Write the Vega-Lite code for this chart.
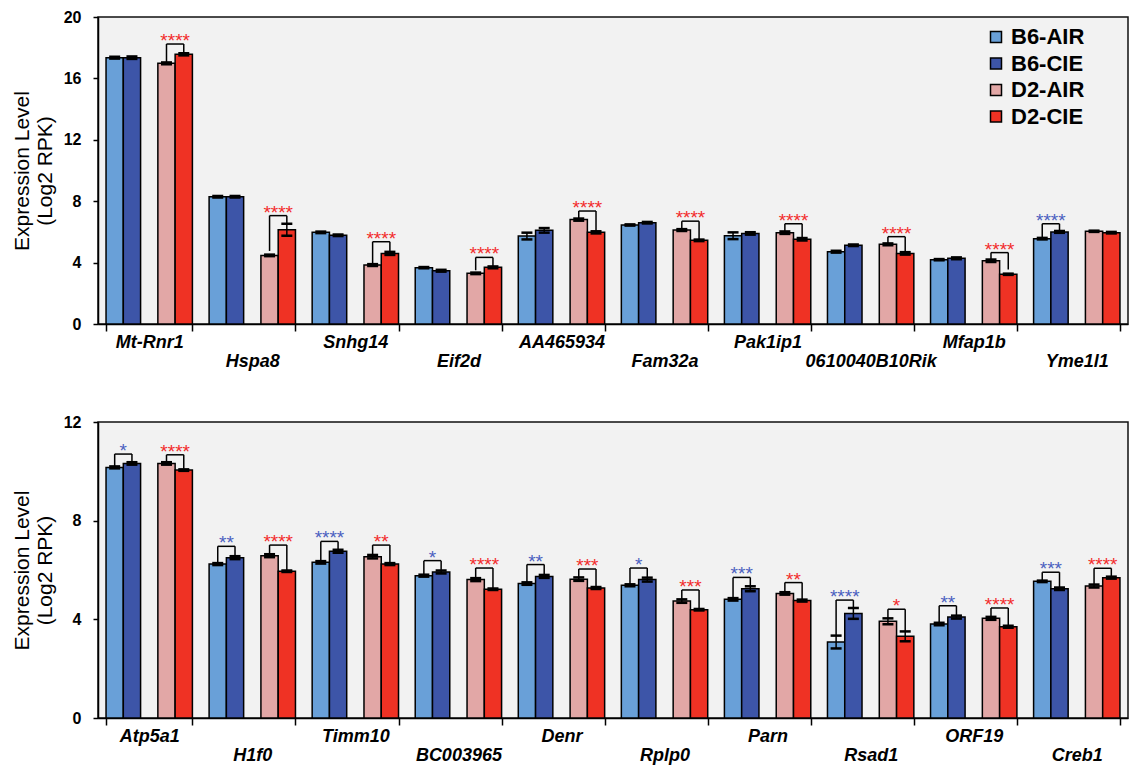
{
  "$schema": "https://vega.github.io/schema/vega-lite/v6.json",
  "background": "white",
  "padding": {"left": 10, "top": 8, "right": 2, "bottom": 0},
  "spacing": 42,
  "config": {
    "view": {"fill": "#f2f2f2", "stroke": "#111111", "strokeWidth": 1.5},
    "font": "Liberation Sans",
    "axisX": {
      "title": null, "labelExpr": "round(datum.index*9) % 2 == 1 ? ['', datum.label] : datum.label",
      "labelFont": "Liberation Sans", "labelFontSize": 18, "labelFontWeight": "bold", "labelFontStyle": "italic",
      "labelAngle": 0, "labelPadding": 2, "labelLineHeight": 19, "tickBand": "extent", "tickSize": 7,
      "tickColor": "black", "tickWidth": 1.5, "domainColor": "black", "domainWidth": 1.5, "labelColor": "black",
      "labelOverlap": false, "labelBound": false, "labelFlush": false, "grid": false
    },
    "axisY": {
      "titleFont": "Liberation Sans", "titleFontSize": 21, "titleFontWeight": "normal", "titleColor": "black",
      "titleLineHeight": 23, "titlePadding": 8,
      "labelFont": "Liberation Sans", "labelFontSize": 16, "labelFontWeight": "bold", "labelColor": "black", "labelPadding": 12,
      "tickSize": 5, "tickColor": "black", "tickWidth": 1.5, "domainColor": "black", "domainWidth": 1.5, "grid": false
    }
  },
  "datasets": {
    "topBars": [
      {"g": "Mt-Rnr1", "s": "B6-AIR", "v": 17.35, "lo": 17.29, "hi": 17.41}, {"g": "Mt-Rnr1", "s": "B6-CIE", "v": 17.35, "lo": 17.27, "hi": 17.43}, {"g": "Mt-Rnr1", "s": "D2-AIR", "v": 16.98, "lo": 16.92, "hi": 17.04}, {"g": "Mt-Rnr1", "s": "D2-CIE", "v": 17.57, "lo": 17.5, "hi": 17.64},
      {"g": "Hspa8", "s": "B6-AIR", "v": 8.29, "lo": 8.24, "hi": 8.34}, {"g": "Hspa8", "s": "B6-CIE", "v": 8.29, "lo": 8.24, "hi": 8.34}, {"g": "Hspa8", "s": "D2-AIR", "v": 4.47, "lo": 4.42, "hi": 4.52}, {"g": "Hspa8", "s": "D2-CIE", "v": 6.14, "lo": 5.75, "hi": 6.53},
      {"g": "Snhg14", "s": "B6-AIR", "v": 5.97, "lo": 5.92, "hi": 6.02}, {"g": "Snhg14", "s": "B6-CIE", "v": 5.78, "lo": 5.73, "hi": 5.83}, {"g": "Snhg14", "s": "D2-AIR", "v": 3.84, "lo": 3.78, "hi": 3.9}, {"g": "Snhg14", "s": "D2-CIE", "v": 4.6, "lo": 4.5, "hi": 4.7},
      {"g": "Eif2d", "s": "B6-AIR", "v": 3.67, "lo": 3.63, "hi": 3.71}, {"g": "Eif2d", "s": "B6-CIE", "v": 3.47, "lo": 3.41, "hi": 3.53}, {"g": "Eif2d", "s": "D2-AIR", "v": 3.3, "lo": 3.25, "hi": 3.35}, {"g": "Eif2d", "s": "D2-CIE", "v": 3.69, "lo": 3.63, "hi": 3.75},
      {"g": "AA465934", "s": "B6-AIR", "v": 5.73, "lo": 5.51, "hi": 5.95}, {"g": "AA465934", "s": "B6-CIE", "v": 6.1, "lo": 5.95, "hi": 6.25}, {"g": "AA465934", "s": "D2-AIR", "v": 6.8, "lo": 6.73, "hi": 6.87}, {"g": "AA465934", "s": "D2-CIE", "v": 5.97, "lo": 5.9, "hi": 6.04},
      {"g": "Fam32a", "s": "B6-AIR", "v": 6.45, "lo": 6.41, "hi": 6.49}, {"g": "Fam32a", "s": "B6-CIE", "v": 6.6, "lo": 6.55, "hi": 6.65}, {"g": "Fam32a", "s": "D2-AIR", "v": 6.12, "lo": 6.06, "hi": 6.18}, {"g": "Fam32a", "s": "D2-CIE", "v": 5.45, "lo": 5.4, "hi": 5.5},
      {"g": "Pak1ip1", "s": "B6-AIR", "v": 5.75, "lo": 5.53, "hi": 5.97}, {"g": "Pak1ip1", "s": "B6-CIE", "v": 5.9, "lo": 5.82, "hi": 5.98}, {"g": "Pak1ip1", "s": "D2-AIR", "v": 5.95, "lo": 5.87, "hi": 6.03}, {"g": "Pak1ip1", "s": "D2-CIE", "v": 5.52, "lo": 5.44, "hi": 5.6},
      {"g": "0610040B10Rik", "s": "B6-AIR", "v": 4.71, "lo": 4.65, "hi": 4.77}, {"g": "0610040B10Rik", "s": "B6-CIE", "v": 5.13, "lo": 5.08, "hi": 5.18}, {"g": "0610040B10Rik", "s": "D2-AIR", "v": 5.19, "lo": 5.13, "hi": 5.25}, {"g": "0610040B10Rik", "s": "D2-CIE", "v": 4.6, "lo": 4.52, "hi": 4.68},
      {"g": "Mfap1b", "s": "B6-AIR", "v": 4.19, "lo": 4.15, "hi": 4.23}, {"g": "Mfap1b", "s": "B6-CIE", "v": 4.28, "lo": 4.22, "hi": 4.34}, {"g": "Mfap1b", "s": "D2-AIR", "v": 4.12, "lo": 4.04, "hi": 4.2}, {"g": "Mfap1b", "s": "D2-CIE", "v": 3.24, "lo": 3.2, "hi": 3.28},
      {"g": "Yme1l1", "s": "B6-AIR", "v": 5.56, "lo": 5.51, "hi": 5.61}, {"g": "Yme1l1", "s": "B6-CIE", "v": 6.0, "lo": 5.94, "hi": 6.06}, {"g": "Yme1l1", "s": "D2-AIR", "v": 6.04, "lo": 6.0, "hi": 6.08}, {"g": "Yme1l1", "s": "D2-CIE", "v": 5.95, "lo": 5.9, "hi": 6.0}
    ],
    "topBr": [
      {"g": "Mt-Rnr1", "p": "D2", "a": "D2-AIR", "b": "D2-CIE", "ya": 17.05, "yb": 17.65, "t": 18.24, "st": "****"},
      {"g": "Hspa8", "p": "D2", "a": "D2-AIR", "b": "D2-CIE", "ya": 4.76, "yb": 6.55, "t": 7.06, "st": "****"},
      {"g": "Snhg14", "p": "D2", "a": "D2-AIR", "b": "D2-CIE", "ya": 3.9, "yb": 4.7, "t": 5.36, "st": "****"},
      {"g": "Eif2d", "p": "D2", "a": "D2-AIR", "b": "D2-CIE", "ya": 3.5, "yb": 3.75, "t": 4.34, "st": "****"},
      {"g": "AA465934", "p": "D2", "a": "D2-AIR", "b": "D2-CIE", "ya": 6.88, "yb": 6.05, "t": 7.36, "st": "****"},
      {"g": "Fam32a", "p": "D2", "a": "D2-AIR", "b": "D2-CIE", "ya": 6.2, "yb": 5.5, "t": 6.7, "st": "****"},
      {"g": "Pak1ip1", "p": "D2", "a": "D2-AIR", "b": "D2-CIE", "ya": 6.03, "yb": 5.6, "t": 6.53, "st": "****"},
      {"g": "0610040B10Rik", "p": "D2", "a": "D2-AIR", "b": "D2-CIE", "ya": 5.25, "yb": 4.68, "t": 5.69, "st": "****"},
      {"g": "Mfap1b", "p": "D2", "a": "D2-AIR", "b": "D2-CIE", "ya": 4.2, "yb": 3.55, "t": 4.65, "st": "****"},
      {"g": "Yme1l1", "p": "B6", "a": "B6-AIR", "b": "B6-CIE", "ya": 5.6, "yb": 6.06, "t": 6.53, "st": "****"}
    ],
    "botBars": [
      {"g": "Atp5a1", "s": "B6-AIR", "v": 10.16, "lo": 10.12, "hi": 10.2}, {"g": "Atp5a1", "s": "B6-CIE", "v": 10.32, "lo": 10.27, "hi": 10.37}, {"g": "Atp5a1", "s": "D2-AIR", "v": 10.32, "lo": 10.27, "hi": 10.37}, {"g": "Atp5a1", "s": "D2-CIE", "v": 10.05, "lo": 10.02, "hi": 10.08},
      {"g": "H1f0", "s": "B6-AIR", "v": 6.24, "lo": 6.2, "hi": 6.28}, {"g": "H1f0", "s": "B6-CIE", "v": 6.5, "lo": 6.44, "hi": 6.56}, {"g": "H1f0", "s": "D2-AIR", "v": 6.58, "lo": 6.52, "hi": 6.64}, {"g": "H1f0", "s": "D2-CIE", "v": 5.95, "lo": 5.92, "hi": 5.98},
      {"g": "Timm10", "s": "B6-AIR", "v": 6.31, "lo": 6.26, "hi": 6.36}, {"g": "Timm10", "s": "B6-CIE", "v": 6.76, "lo": 6.7, "hi": 6.82}, {"g": "Timm10", "s": "D2-AIR", "v": 6.54, "lo": 6.47, "hi": 6.61}, {"g": "Timm10", "s": "D2-CIE", "v": 6.24, "lo": 6.2, "hi": 6.28},
      {"g": "BC003965", "s": "B6-AIR", "v": 5.77, "lo": 5.73, "hi": 5.81}, {"g": "BC003965", "s": "B6-CIE", "v": 5.92, "lo": 5.86, "hi": 5.98}, {"g": "BC003965", "s": "D2-AIR", "v": 5.61, "lo": 5.55, "hi": 5.67}, {"g": "BC003965", "s": "D2-CIE", "v": 5.22, "lo": 5.19, "hi": 5.25},
      {"g": "Denr", "s": "B6-AIR", "v": 5.45, "lo": 5.4, "hi": 5.5}, {"g": "Denr", "s": "B6-CIE", "v": 5.74, "lo": 5.68, "hi": 5.8}, {"g": "Denr", "s": "D2-AIR", "v": 5.63, "lo": 5.56, "hi": 5.7}, {"g": "Denr", "s": "D2-CIE", "v": 5.27, "lo": 5.23, "hi": 5.31},
      {"g": "Rplp0", "s": "B6-AIR", "v": 5.38, "lo": 5.34, "hi": 5.42}, {"g": "Rplp0", "s": "B6-CIE", "v": 5.61, "lo": 5.53, "hi": 5.69}, {"g": "Rplp0", "s": "D2-AIR", "v": 4.74, "lo": 4.67, "hi": 4.81}, {"g": "Rplp0", "s": "D2-CIE", "v": 4.39, "lo": 4.36, "hi": 4.42},
      {"g": "Parn", "s": "B6-AIR", "v": 4.81, "lo": 4.76, "hi": 4.86}, {"g": "Parn", "s": "B6-CIE", "v": 5.24, "lo": 5.14, "hi": 5.34}, {"g": "Parn", "s": "D2-AIR", "v": 5.05, "lo": 5.0, "hi": 5.1}, {"g": "Parn", "s": "D2-CIE", "v": 4.76, "lo": 4.72, "hi": 4.8},
      {"g": "Rsad1", "s": "B6-AIR", "v": 3.08, "lo": 2.82, "hi": 3.34}, {"g": "Rsad1", "s": "B6-CIE", "v": 4.24, "lo": 4.02, "hi": 4.46}, {"g": "Rsad1", "s": "D2-AIR", "v": 3.92, "lo": 3.8, "hi": 4.04}, {"g": "Rsad1", "s": "D2-CIE", "v": 3.31, "lo": 3.11, "hi": 3.51},
      {"g": "ORF19", "s": "B6-AIR", "v": 3.81, "lo": 3.76, "hi": 3.86}, {"g": "ORF19", "s": "B6-CIE", "v": 4.09, "lo": 4.03, "hi": 4.15}, {"g": "ORF19", "s": "D2-AIR", "v": 4.04, "lo": 3.98, "hi": 4.1}, {"g": "ORF19", "s": "D2-CIE", "v": 3.7, "lo": 3.66, "hi": 3.74},
      {"g": "Creb1", "s": "B6-AIR", "v": 5.54, "lo": 5.51, "hi": 5.57}, {"g": "Creb1", "s": "B6-CIE", "v": 5.24, "lo": 5.19, "hi": 5.29}, {"g": "Creb1", "s": "D2-AIR", "v": 5.35, "lo": 5.29, "hi": 5.41}, {"g": "Creb1", "s": "D2-CIE", "v": 5.69, "lo": 5.65, "hi": 5.73}
    ],
    "botBr": [
      {"g": "Atp5a1", "p": "B6", "a": "B6-AIR", "b": "B6-CIE", "ya": 10.2, "yb": 10.37, "t": 10.7, "st": "*"},
      {"g": "Atp5a1", "p": "D2", "a": "D2-AIR", "b": "D2-CIE", "ya": 10.37, "yb": 10.1, "t": 10.67, "st": "****"},
      {"g": "H1f0", "p": "B6", "a": "B6-AIR", "b": "B6-CIE", "ya": 6.28, "yb": 6.55, "t": 6.96, "st": "**"},
      {"g": "H1f0", "p": "D2", "a": "D2-AIR", "b": "D2-CIE", "ya": 6.63, "yb": 6.0, "t": 7.01, "st": "****"},
      {"g": "Timm10", "p": "B6", "a": "B6-AIR", "b": "B6-CIE", "ya": 6.36, "yb": 6.8, "t": 7.16, "st": "****"},
      {"g": "Timm10", "p": "D2", "a": "D2-AIR", "b": "D2-CIE", "ya": 6.6, "yb": 6.28, "t": 7.01, "st": "**"},
      {"g": "BC003965", "p": "B6", "a": "B6-AIR", "b": "B6-CIE", "ya": 5.82, "yb": 5.97, "t": 6.38, "st": "*"},
      {"g": "BC003965", "p": "D2", "a": "D2-AIR", "b": "D2-CIE", "ya": 5.67, "yb": 5.27, "t": 6.08, "st": "****"},
      {"g": "Denr", "p": "B6", "a": "B6-AIR", "b": "B6-CIE", "ya": 5.5, "yb": 5.8, "t": 6.22, "st": "**"},
      {"g": "Denr", "p": "D2", "a": "D2-AIR", "b": "D2-CIE", "ya": 5.68, "yb": 5.32, "t": 6.04, "st": "***"},
      {"g": "Rplp0", "p": "B6", "a": "B6-AIR", "b": "B6-CIE", "ya": 5.43, "yb": 5.7, "t": 6.08, "st": "*"},
      {"g": "Rplp0", "p": "D2", "a": "D2-AIR", "b": "D2-CIE", "ya": 4.8, "yb": 4.44, "t": 5.19, "st": "***"},
      {"g": "Parn", "p": "B6", "a": "B6-AIR", "b": "B6-CIE", "ya": 4.86, "yb": 5.34, "t": 5.7, "st": "***"},
      {"g": "Parn", "p": "D2", "a": "D2-AIR", "b": "D2-CIE", "ya": 5.1, "yb": 4.8, "t": 5.49, "st": "**"},
      {"g": "Rsad1", "p": "B6", "a": "B6-AIR", "b": "B6-CIE", "ya": 3.34, "yb": 4.46, "t": 4.78, "st": "****"},
      {"g": "Rsad1", "p": "D2", "a": "D2-AIR", "b": "D2-CIE", "ya": 4.05, "yb": 3.52, "t": 4.41, "st": "*"},
      {"g": "ORF19", "p": "B6", "a": "B6-AIR", "b": "B6-CIE", "ya": 3.86, "yb": 4.14, "t": 4.55, "st": "**"},
      {"g": "ORF19", "p": "D2", "a": "D2-AIR", "b": "D2-CIE", "ya": 4.1, "yb": 3.75, "t": 4.46, "st": "****"},
      {"g": "Creb1", "p": "B6", "a": "B6-AIR", "b": "B6-CIE", "ya": 5.58, "yb": 5.3, "t": 5.91, "st": "***"},
      {"g": "Creb1", "p": "D2", "a": "D2-AIR", "b": "D2-CIE", "ya": 5.4, "yb": 5.74, "t": 6.07, "st": "****"}
    ]
  },
  "resolve": {"scale": {"x": "independent", "y": "independent", "color": "independent"}},
  "vconcat": [
    {
      "width": 1030, "height": 307,
      "resolve": {"scale": {"xOffset": "independent"}},
      "layer": [
        {
          "data": {"name": "topBars"},
          "mark": {"type": "bar", "stroke": "black", "strokeWidth": 1.5},
          "encoding": {
            "x": {"field": "g", "type": "nominal", "title": null, "scale": {"domain": ["Mt-Rnr1", "Hspa8", "Snhg14", "Eif2d", "AA465934", "Fam32a", "Pak1ip1", "0610040B10Rik", "Mfap1b", "Yme1l1"], "paddingInner": 0.162, "paddingOuter": 0.078}},
            "xOffset": {"field": "s", "type": "nominal", "scale": {"domain": ["B6-AIR", "B6-CIE", "gap", "D2-AIR", "D2-CIE"], "paddingInner": 0, "paddingOuter": 0}},
            "y": {"field": "v", "type": "quantitative", "scale": {"domain": [0, 20], "nice": false}, "axis": {"values": [0, 4, 8, 12, 16, 20], "title": ["Expression Level", "(Log2 RPK)"]}},
            "color": {"field": "s", "type": "nominal", "scale": {"domain": ["B6-AIR", "B6-CIE", "D2-AIR", "D2-CIE"], "range": ["#69a0d8", "#3d55a8", "#e2a7a6", "#ef3224"]},
              "legend": {"orient": "none", "legendX": 887, "legendY": 9, "title": null, "symbolType": "square", "symbolSize": 121, "symbolStrokeColor": "black", "symbolStrokeWidth": 1.5, "symbolOpacity": 1, "labelFontSize": 22, "labelFontWeight": "bold", "labelFont": "Liberation Sans", "labelColor": "black", "rowPadding": 4.5, "labelOffset": 4, "padding": 0}}
          }
        },
        {
          "data": {"name": "topBars"},
          "mark": {"type": "rule", "color": "black", "strokeWidth": 1.5},
          "encoding": {
            "x": {"field": "g", "type": "nominal"},
            "xOffset": {"field": "s", "type": "nominal", "scale": {"domain": ["B6-AIR", "B6-CIE", "gap", "D2-AIR", "D2-CIE"], "paddingInner": 0, "paddingOuter": 0}},
            "y": {"field": "lo", "type": "quantitative"}, "y2": {"field": "hi"}
          }
        },
        {
          "data": {"name": "topBars"},
          "mark": {"type": "tick", "color": "black", "thickness": 2.5, "size": 11, "orient": "horizontal", "opacity": 1},
          "encoding": {
            "x": {"field": "g", "type": "nominal"},
            "xOffset": {"field": "s", "type": "nominal", "scale": {"domain": ["B6-AIR", "B6-CIE", "gap", "D2-AIR", "D2-CIE"], "paddingInner": 0, "paddingOuter": 0}},
            "y": {"field": "lo", "type": "quantitative"}
          }
        },
        {
          "data": {"name": "topBars"},
          "mark": {"type": "tick", "color": "black", "thickness": 2.5, "size": 11, "orient": "horizontal", "opacity": 1},
          "encoding": {
            "x": {"field": "g", "type": "nominal"},
            "xOffset": {"field": "s", "type": "nominal", "scale": {"domain": ["B6-AIR", "B6-CIE", "gap", "D2-AIR", "D2-CIE"], "paddingInner": 0, "paddingOuter": 0}},
            "y": {"field": "hi", "type": "quantitative"}
          }
        },
        {
          "data": {"name": "topBr"},
          "mark": {"type": "rule", "color": "black", "strokeWidth": 1.5},
          "encoding": {
            "x": {"field": "g", "type": "nominal"},
            "xOffset": {"field": "a", "type": "nominal", "scale": {"domain": ["B6-AIR", "B6-CIE", "gap", "D2-AIR", "D2-CIE"], "paddingInner": 0, "paddingOuter": 0}},
            "y": {"field": "ya", "type": "quantitative"}, "y2": {"field": "t"}
          }
        },
        {
          "data": {"name": "topBr"},
          "mark": {"type": "rule", "color": "black", "strokeWidth": 1.5},
          "encoding": {
            "x": {"field": "g", "type": "nominal"},
            "xOffset": {"field": "b", "type": "nominal", "scale": {"domain": ["B6-AIR", "B6-CIE", "gap", "D2-AIR", "D2-CIE"], "paddingInner": 0, "paddingOuter": 0}},
            "y": {"field": "yb", "type": "quantitative"}, "y2": {"field": "t"}
          }
        },
        {
          "data": {"name": "topBr"},
          "mark": {"type": "tick", "color": "black", "thickness": 1.5, "size": 17.3, "orient": "horizontal", "opacity": 1},
          "encoding": {
            "x": {"field": "g", "type": "nominal"},
            "xOffset": {"field": "p", "type": "nominal", "scale": {"type": "point", "domain": ["B6", "D2"], "padding": 0.3333}},
            "y": {"field": "t", "type": "quantitative"}
          }
        },
        {
          "data": {"name": "topBr"},
          "mark": {"type": "text", "fontSize": 19, "font": "Liberation Sans", "baseline": "alphabetic", "dy": 3},
          "encoding": {
            "x": {"field": "g", "type": "nominal"},
            "xOffset": {"field": "p", "type": "nominal", "scale": {"type": "point", "domain": ["B6", "D2"], "padding": 0.3333}},
            "y": {"field": "t", "type": "quantitative"},
            "text": {"field": "st"},
            "color": {"condition": {"test": "datum.p == 'B6'", "value": "#4b5fc0"}, "value": "#f22c2c"}
          }
        }
      ]
    },
    {
      "width": 1030, "height": 296,
      "resolve": {"scale": {"xOffset": "independent"}},
      "layer": [
        {
          "data": {"name": "botBars"},
          "mark": {"type": "bar", "stroke": "black", "strokeWidth": 1.5},
          "encoding": {
            "x": {"field": "g", "type": "nominal", "title": null, "scale": {"domain": ["Atp5a1", "H1f0", "Timm10", "BC003965", "Denr", "Rplp0", "Parn", "Rsad1", "ORF19", "Creb1"], "paddingInner": 0.162, "paddingOuter": 0.078}},
            "xOffset": {"field": "s", "type": "nominal", "scale": {"domain": ["B6-AIR", "B6-CIE", "gap", "D2-AIR", "D2-CIE"], "paddingInner": 0, "paddingOuter": 0}},
            "y": {"field": "v", "type": "quantitative", "scale": {"domain": [0, 12], "nice": false}, "axis": {"values": [0, 4, 8, 12], "title": ["Expression Level", "(Log2 RPK)"]}},
            "color": {"field": "s", "type": "nominal", "scale": {"domain": ["B6-AIR", "B6-CIE", "D2-AIR", "D2-CIE"], "range": ["#69a0d8", "#3d55a8", "#e2a7a6", "#ef3224"]}, "legend": null}
          }
        },
        {
          "data": {"name": "botBars"},
          "mark": {"type": "rule", "color": "black", "strokeWidth": 1.5},
          "encoding": {
            "x": {"field": "g", "type": "nominal"},
            "xOffset": {"field": "s", "type": "nominal", "scale": {"domain": ["B6-AIR", "B6-CIE", "gap", "D2-AIR", "D2-CIE"], "paddingInner": 0, "paddingOuter": 0}},
            "y": {"field": "lo", "type": "quantitative"}, "y2": {"field": "hi"}
          }
        },
        {
          "data": {"name": "botBars"},
          "mark": {"type": "tick", "color": "black", "thickness": 2.5, "size": 11, "orient": "horizontal", "opacity": 1},
          "encoding": {
            "x": {"field": "g", "type": "nominal"},
            "xOffset": {"field": "s", "type": "nominal", "scale": {"domain": ["B6-AIR", "B6-CIE", "gap", "D2-AIR", "D2-CIE"], "paddingInner": 0, "paddingOuter": 0}},
            "y": {"field": "lo", "type": "quantitative"}
          }
        },
        {
          "data": {"name": "botBars"},
          "mark": {"type": "tick", "color": "black", "thickness": 2.5, "size": 11, "orient": "horizontal", "opacity": 1},
          "encoding": {
            "x": {"field": "g", "type": "nominal"},
            "xOffset": {"field": "s", "type": "nominal", "scale": {"domain": ["B6-AIR", "B6-CIE", "gap", "D2-AIR", "D2-CIE"], "paddingInner": 0, "paddingOuter": 0}},
            "y": {"field": "hi", "type": "quantitative"}
          }
        },
        {
          "data": {"name": "botBr"},
          "mark": {"type": "rule", "color": "black", "strokeWidth": 1.5},
          "encoding": {
            "x": {"field": "g", "type": "nominal"},
            "xOffset": {"field": "a", "type": "nominal", "scale": {"domain": ["B6-AIR", "B6-CIE", "gap", "D2-AIR", "D2-CIE"], "paddingInner": 0, "paddingOuter": 0}},
            "y": {"field": "ya", "type": "quantitative"}, "y2": {"field": "t"}
          }
        },
        {
          "data": {"name": "botBr"},
          "mark": {"type": "rule", "color": "black", "strokeWidth": 1.5},
          "encoding": {
            "x": {"field": "g", "type": "nominal"},
            "xOffset": {"field": "b", "type": "nominal", "scale": {"domain": ["B6-AIR", "B6-CIE", "gap", "D2-AIR", "D2-CIE"], "paddingInner": 0, "paddingOuter": 0}},
            "y": {"field": "yb", "type": "quantitative"}, "y2": {"field": "t"}
          }
        },
        {
          "data": {"name": "botBr"},
          "mark": {"type": "tick", "color": "black", "thickness": 1.5, "size": 17.3, "orient": "horizontal", "opacity": 1},
          "encoding": {
            "x": {"field": "g", "type": "nominal"},
            "xOffset": {"field": "p", "type": "nominal", "scale": {"type": "point", "domain": ["B6", "D2"], "padding": 0.3333}},
            "y": {"field": "t", "type": "quantitative"}
          }
        },
        {
          "data": {"name": "botBr"},
          "mark": {"type": "text", "fontSize": 19, "font": "Liberation Sans", "baseline": "alphabetic", "dy": 3},
          "encoding": {
            "x": {"field": "g", "type": "nominal"},
            "xOffset": {"field": "p", "type": "nominal", "scale": {"type": "point", "domain": ["B6", "D2"], "padding": 0.3333}},
            "y": {"field": "t", "type": "quantitative"},
            "text": {"field": "st"},
            "color": {"condition": {"test": "datum.p == 'B6'", "value": "#4b5fc0"}, "value": "#f22c2c"}
          }
        }
      ]
    }
  ]
}
